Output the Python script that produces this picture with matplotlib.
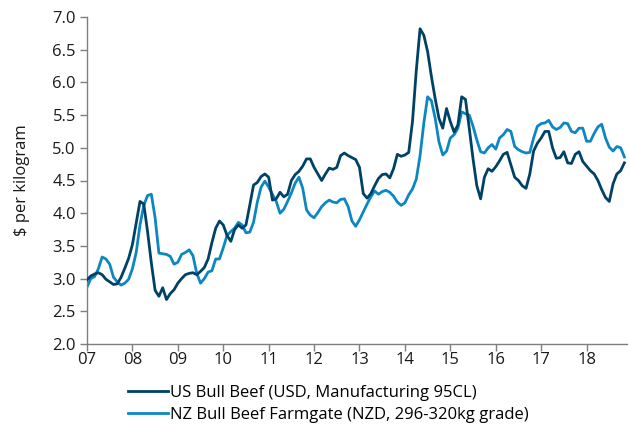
import numpy as np
import matplotlib
matplotlib.use("Agg")
import matplotlib.pyplot as plt

plt.rcParams['font.family'] = ['Open Sans', 'DejaVu Sans']

start_year = 2007
us_bull = [
    2.98, 3.04, 3.07, 3.09, 3.06, 2.99, 2.95, 2.91, 2.92, 3.02, 3.16, 3.31,
    3.52, 3.85, 4.18, 4.14, 3.72, 3.24, 2.82, 2.73, 2.86, 2.68, 2.77, 2.83,
    2.93, 3.00, 3.06, 3.08, 3.09, 3.06, 3.11, 3.17, 3.30, 3.55, 3.77, 3.88,
    3.82, 3.66, 3.57, 3.75, 3.82, 3.77, 3.82, 4.12, 4.43, 4.47, 4.56, 4.60,
    4.55, 4.20, 4.22, 4.32, 4.25, 4.29, 4.50, 4.59, 4.64, 4.72, 4.83, 4.83,
    4.70, 4.60, 4.50, 4.60, 4.69, 4.67, 4.70, 4.88, 4.92, 4.88, 4.85, 4.82,
    4.70, 4.30, 4.23, 4.30, 4.42, 4.53, 4.59, 4.60, 4.54, 4.68, 4.90, 4.87,
    4.89, 4.93, 5.40, 6.18, 6.82, 6.72, 6.47, 6.09, 5.75, 5.45, 5.30, 5.60,
    5.40, 5.24, 5.35, 5.78, 5.74, 5.30, 4.83, 4.42, 4.22, 4.55, 4.68, 4.64,
    4.71, 4.80, 4.90, 4.93, 4.74, 4.55, 4.50, 4.42, 4.38, 4.60, 4.95, 5.07,
    5.15, 5.25, 5.25, 5.00, 4.84, 4.85, 4.94, 4.77, 4.76, 4.90, 4.94, 4.79,
    4.72, 4.65, 4.60, 4.50, 4.36, 4.24, 4.18, 4.45, 4.60, 4.65, 4.77,
]
nz_bull = [
    2.87, 3.00, 3.03, 3.15, 3.33, 3.30, 3.22, 3.02, 2.95, 2.90, 2.93, 2.99,
    3.15, 3.40, 3.82, 4.12, 4.27, 4.29, 3.93, 3.39, 3.38, 3.37, 3.34, 3.22,
    3.25, 3.37, 3.40, 3.44, 3.35, 3.08, 2.93, 3.00, 3.10, 3.12, 3.30, 3.30,
    3.47, 3.66, 3.72, 3.77, 3.86, 3.82, 3.70, 3.71, 3.86, 4.17, 4.40, 4.49,
    4.40, 4.29, 4.18, 4.00, 4.06, 4.18, 4.31, 4.46, 4.55, 4.38, 4.05, 3.97,
    3.93, 4.01, 4.10, 4.16, 4.20, 4.17, 4.16, 4.21, 4.22, 4.10, 3.88, 3.80,
    3.90, 4.02, 4.14, 4.25, 4.34, 4.29, 4.33, 4.35, 4.32, 4.26, 4.17, 4.12,
    4.16, 4.28, 4.37, 4.52, 4.88, 5.38, 5.78, 5.72, 5.45, 5.09, 4.89, 4.95,
    5.15, 5.20, 5.30, 5.55, 5.52, 5.50, 5.33, 5.12, 4.94, 4.92, 5.00, 5.05,
    4.98, 5.15, 5.20, 5.28, 5.25, 5.02, 4.97, 4.94, 4.92, 4.93, 5.15, 5.33,
    5.37, 5.38, 5.42, 5.32, 5.28, 5.31, 5.38, 5.37, 5.25, 5.23, 5.30, 5.30,
    5.10, 5.10, 5.22, 5.32, 5.36, 5.15, 5.01, 4.95, 5.02, 5.00, 4.86,
]
year_ticks = list(range(2007, 2019))
year_labels = [f"{y % 100:02d}" for y in year_ticks]
y_ticks = [2.0, 2.5, 3.0, 3.5, 4.0, 4.5, 5.0, 5.5, 6.0, 6.5, 7.0]

labels = ["US Bull Beef (USD, Manufacturing 95CL)",
          "NZ Bull Beef Farmgate (NZD, 296-320kg grade)"]

t_us = start_year + np.arange(len(us_bull)) / 12.0
t_nz = start_year + np.arange(len(nz_bull)) / 12.0

fig = plt.figure(figsize=(6.3, 4.26), dpi=100)
ax = fig.add_axes([87/630, 1 - 344/426, (627-87)/630, (344-17)/426])

dark = "#004166"
light = "#0c87c2"
l1, = ax.plot(t_us, us_bull, color=dark, lw=2.0, label=labels[0], solid_joinstyle='round')
l2, = ax.plot(t_nz, nz_bull, color=light, lw=2.0, label=labels[1], solid_joinstyle='round')
l1.set_zorder(3)
l2.set_zorder(2)

ax.set_xlim(2007, 2018.89)
ax.set_ylim(2.0, 7.0)
ax.set_xticks(year_ticks)
ax.set_xticklabels(year_labels)
ax.set_yticks(y_ticks)
ax.set_yticklabels([f"{v:.1f}" for v in y_ticks])

for s in ["top", "right"]:
    ax.spines[s].set_visible(False)
for s in ["left", "bottom"]:
    ax.spines[s].set_color("#7f7f7f")
    ax.spines[s].set_linewidth(1.0)

ax.tick_params(axis="both", direction="out", length=5, width=1.0,
               color="#7f7f7f", labelsize=12, labelcolor="#1a1a1a")
ax.tick_params(axis="y", pad=3)
ax.tick_params(axis="x", pad=0.5)

ax.set_ylabel("$ per kilogram", fontsize=12, color="#1a1a1a", labelpad=16)

fig.legend(handles=[l1, l2], labels=labels, loc="upper left",
           bbox_to_anchor=(128/630, 1 - 385/426), frameon=False,
           fontsize=12, handlelength=2.4, handletextpad=0.15,
           labelspacing=0.35, borderaxespad=0, borderpad=0)

fig.savefig("out.png", dpi=100)
